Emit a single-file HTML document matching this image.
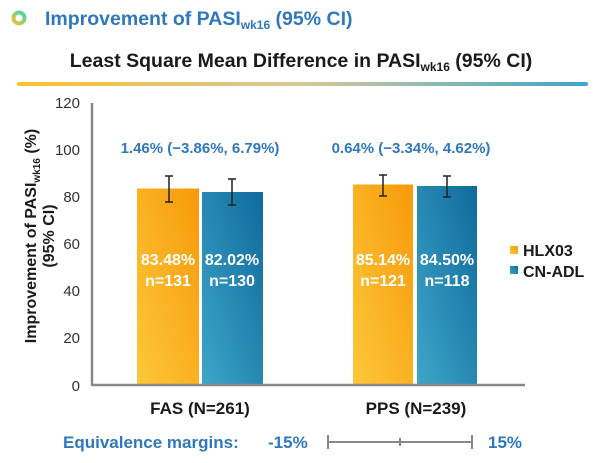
<!DOCTYPE html>
<html><head><style>
body{margin:0;background:#fff;}
svg{display:block;font-family:"Liberation Sans",Arial,sans-serif;}
</style></head><body>
<svg width="600" height="463" viewBox="0 0 600 463" xmlns="http://www.w3.org/2000/svg">
<defs>
<linearGradient id="ring" x1="0" y1="1" x2="1" y2="0"><stop offset="0" stop-color="#f5c03a"/><stop offset="1" stop-color="#3fd8a8"/></linearGradient>
<linearGradient id="rule" x1="0" x2="1"><stop offset="0" stop-color="#f9c22e"/><stop offset="0.5" stop-color="#d6c89a"/><stop offset="1" stop-color="#3aa7c9"/></linearGradient>
<linearGradient id="org" x1="1" y1="0" x2="0" y2="1"><stop offset="0" stop-color="#f79a0a"/><stop offset="1" stop-color="#fdc83a"/></linearGradient>
<linearGradient id="blu" x1="1" y1="0" x2="0" y2="1"><stop offset="0" stop-color="#0f6a9c"/><stop offset="1" stop-color="#3ea6c9"/></linearGradient>
</defs>
<circle cx="19" cy="18" r="5.5" fill="none" stroke="url(#ring)" stroke-width="4"/>
<text x="45" y="25" font-size="19.5" font-weight="bold" fill="#2f78be">Improvement of PASI<tspan font-size="12" dy="4">wk16</tspan><tspan dy="-4"> (95% CI)</tspan></text>
<text x="301" y="67" text-anchor="middle" font-size="19.5" font-weight="bold" fill="#1a1a1a">Least Square Mean Difference in PASI<tspan font-size="12" dy="4">wk16</tspan><tspan dy="-4"> (95% CI)</tspan></text>
<rect x="17" y="82" width="571" height="4" rx="2" fill="url(#rule)"/>
<g font-size="15" fill="#333" text-anchor="end">
<text x="80" y="108">120</text><text x="80" y="155">100</text><text x="80" y="202">80</text><text x="80" y="249">60</text><text x="80" y="296">40</text><text x="80" y="343">20</text><text x="80" y="391">0</text>
</g>
<g transform="translate(36,236) rotate(-90)" font-size="16" font-weight="bold" fill="#1a1a1a" text-anchor="middle">
<text x="0" y="0">Improvement of PASI<tspan font-size="10" dy="4">wk16</tspan><tspan dy="-4"> (%)</tspan></text>
<text x="0" y="18">(95% CI)</text>
</g>
<rect x="137" y="188.5" width="62" height="196.5" fill="url(#org)"/>
<rect x="202" y="192" width="61" height="193" fill="url(#blu)"/>
<rect x="353" y="184.5" width="60" height="200.5" fill="url(#org)"/>
<rect x="417" y="186" width="60" height="199" fill="url(#blu)"/>
<g stroke="#222" stroke-width="1.5" fill="none">
<path d="M169 176V202M165 176h8M165 202h8"/>
<path d="M232 179V205M228 179h8M228 205h8"/>
<path d="M383 175V196M379 175h8M379 196h8"/>
<path d="M447 176V197M443 176h8M443 197h8"/>
</g>
<line x1="92" y1="103" x2="92" y2="386" stroke="#888" stroke-width="2.5"/>
<line x1="92" y1="385" x2="525" y2="385" stroke="#888" stroke-width="2.5"/>
<g font-size="16" font-weight="bold" fill="#fff" text-anchor="middle">
<text x="168" y="265">83.48%</text><text x="168" y="286">n=131</text>
<text x="232" y="265">82.02%</text><text x="232" y="286">n=130</text>
<text x="383" y="265">85.14%</text><text x="383" y="286">n=121</text>
<text x="447" y="265">84.50%</text><text x="447" y="286">n=118</text>
</g>
<g font-size="15" font-weight="bold" fill="#2f78be" text-anchor="middle">
<text x="200" y="153">1.46% (−3.86%, 6.79%)</text>
<text x="411" y="153">0.64% (−3.34%, 4.62%)</text>
</g>
<rect x="510" y="246" width="8" height="8" fill="url(#org)"/>
<rect x="510" y="266" width="8" height="8" fill="url(#blu)"/>
<g font-size="16" font-weight="bold" fill="#1a1a1a">
<text x="523" y="256">HLX03</text><text x="523" y="277">CN-ADL</text>
</g>
<g font-size="17" font-weight="bold" fill="#1a1a1a" text-anchor="middle">
<text x="200" y="414">FAS (N=261)</text><text x="416" y="414">PPS (N=239)</text>
</g>
<g font-size="17" font-weight="bold" fill="#2f78be">
<text x="63" y="448">Equivalence margins:</text>
<text x="268" y="448">-15%</text>
<text x="488" y="448">15%</text>
</g>
<g stroke="#888" stroke-width="2">
<line x1="328" y1="442" x2="472" y2="442"/>
<line x1="328" y1="435" x2="328" y2="449"/>
<line x1="400" y1="438" x2="400" y2="446"/>
<line x1="472" y1="435" x2="472" y2="449"/>
</g>
</svg>
</body></html>
